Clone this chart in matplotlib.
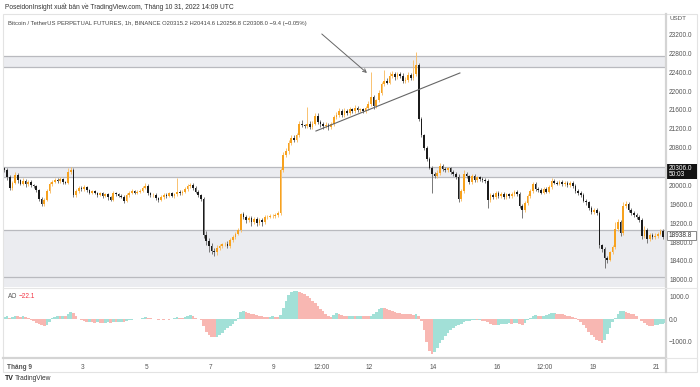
import numpy as np
import matplotlib
matplotlib.use("Agg")
import matplotlib.pyplot as plt
from matplotlib.patches import Rectangle
from matplotlib.lines import Line2D

plt.rcParams['font.family'] = ['Liberation Sans', 'DejaVu Sans']

# ---------------- data (2-hour candles from 2022-08-31 13:00 UTC) ----------------
first_open = 20380
close = [
    20320, 20180, 19950, 20060, 20230, 20110, 20040, 20100, 20020, 20070,
    20010, 19980, 19900, 19720, 19600, 19700, 19880, 20030, 20080, 20120,
    20090, 20130, 20070, 20060, 20290, 20330, 19800, 19880, 19950, 19920,
    19960, 19900, 19850, 19880, 19840, 19800, 19830, 19780, 19820, 19750,
    19700, 19840, 19810, 19780, 19760, 19680, 19790, 19850, 19880, 19850,
    19870, 19890, 19950, 19990, 19830, 19790, 19800, 19730, 19690, 19760,
    19800, 19780, 19830, 19780, 19810, 19870, 19830, 19860, 19930, 19990,
    20010, 19950, 19870, 19790, 19720, 18950, 18820, 18720, 18620, 18580,
    18680, 18720, 18750, 18770, 18720, 18850, 18910, 18980, 19060, 19390,
    19340, 19270, 19310, 19220, 19290, 19200, 19270, 19230, 19330, 19340,
    19350, 19360, 19380, 19420, 20330, 20650, 20720, 20900, 21000, 20970,
    21060, 21310, 21270, 21250, 21300, 21230, 21310, 21470, 21340, 21300,
    21250, 21290, 21240, 21300, 21440, 21490, 21570, 21500, 21580, 21540,
    21610, 21570, 21640, 21590, 21610, 21570, 21630, 21720, 21880, 21680,
    21800, 21960, 22140, 22210, 22180, 22320, 22360, 22290, 22370, 22320,
    22220, 22240, 22330, 22280, 22360, 22560, 21400, 21060, 20800, 20560,
    20380, 20240, 20190, 20260, 20410, 20350, 20330, 20360, 20290, 20250,
    20180, 19720, 19880, 20250, 20190, 20080, 20200, 20120, 20170, 20130,
    20120, 20090, 19690, 19800, 19750, 19840, 19780, 19820, 19760, 19810,
    19780, 19820, 19860, 19820, 19560, 19470, 19620, 19770, 19880, 20030,
    19930, 19900, 19850, 19920, 19870, 19970, 20100, 20060, 20040, 20080,
    20030, 20060, 20010, 20050, 19990, 19880, 19840, 19790, 19680, 19640,
    19520, 19440, 19480, 19420, 18730, 18660, 18460, 18430, 18580, 18700,
    19080, 19230, 18990, 19560, 19600, 19480, 19420, 19380, 19330, 19270,
    18920, 19060, 18860, 18950, 18900, 18930, 18980, 19030, 18910, 18940,
]
wick_up = [
    20, 60, 50, 40, 60, 40, 30, 50, 40, 40,
    40, 30, 30, 30, 30, 40, 40, 40, 40, 40,
    40, 40, 30, 30, 90, 70, 30, 40, 40, 30,
    40, 30, 30, 30, 30, 30, 40, 30, 30, 30,
    30, 40, 30, 30, 30, 30, 40, 40, 40, 30,
    40, 30, 40, 60, 40, 30, 30, 30, 30, 40,
    40, 30, 40, 30, 40, 290, 40, 40, 40, 40,
    40, 40, 30, 30, 30, 40, 80, 60, 70, 60,
    50, 50, 40, 40, 50, 40, 40, 40, 40, 30,
    40, 40, 40, 40, 40, 40, 40, 40, 40, 40,
    40, 40, 40, 40, 40, 60, 80, 60, 60, 60,
    60, 60, 80, 40, 360, 60, 60, 60, 60, 40,
    40, 60, 40, 40, 50, 60, 80, 40, 60, 40,
    60, 40, 60, 40, 40, 40, 60, 60, 520, 40,
    40, 60, 60, 240, 60, 90, 60, 40, 40, 40,
    60, 60, 80, 60, 300, 270, 40, 40, 40, 40,
    40, 40, 40, 60, 60, 40, 40, 40, 40, 40,
    40, 60, 40, 80, 40, 40, 40, 40, 40, 40,
    40, 40, 40, 40, 40, 40, 40, 40, 40, 40,
    40, 40, 40, 40, 40, 40, 40, 40, 40, 40,
    40, 40, 40, 40, 40, 40, 60, 40, 40, 40,
    40, 40, 40, 40, 40, 40, 40, 40, 40, 40,
    40, 40, 40, 40, 40, 40, 40, 40, 40, 40,
    140, 60, 40, 80, 60, 40, 40, 40, 40, 40,
    40, 80, 40, 40, 40, 60, 40, 40, 40, 40,
]
wick_down = [
    40, 60, 50, 40, 40, 50, 40, 40, 50, 30,
    40, 40, 40, 40, 40, 40, 40, 30, 40, 30,
    30, 40, 40, 30, 30, 40, 50, 40, 40, 40,
    40, 40, 30, 40, 30, 40, 30, 40, 30, 60,
    30, 40, 30, 30, 30, 60, 40, 30, 30, 30,
    30, 30, 30, 30, 40, 40, 30, 40, 40, 30,
    40, 40, 30, 30, 40, 30, 30, 40, 30, 40,
    40, 40, 40, 40, 40, 60, 80, 120, 70, 80,
    50, 40, 40, 40, 40, 40, 40, 40, 40, 40,
    50, 60, 40, 80, 40, 60, 40, 90, 40, 40,
    40, 40, 40, 40, 40, 40, 40, 60, 40, 40,
    40, 40, 40, 40, 40, 40, 40, 40, 40, 60,
    60, 40, 60, 40, 40, 40, 40, 40, 40, 40,
    40, 40, 40, 40, 40, 40, 40, 40, 40, 60,
    40, 40, 40, 40, 40, 40, 40, 60, 40, 40,
    40, 40, 40, 40, 40, 40, 40, 40, 40, 40,
    40, 400, 40, 40, 40, 40, 40, 40, 40, 40,
    40, 80, 40, 40, 40, 40, 40, 40, 40, 40,
    40, 40, 160, 40, 40, 40, 40, 40, 40, 40,
    40, 40, 40, 40, 40, 160, 40, 40, 40, 40,
    40, 40, 40, 40, 40, 40, 40, 40, 40, 40,
    40, 40, 40, 40, 40, 40, 40, 40, 40, 60,
    40, 40, 40, 40, 60, 60, 210, 80, 40, 40,
    40, 40, 60, 40, 40, 40, 40, 40, 40, 40,
    60, 40, 80, 40, 40, 40, 40, 40, 40, 40,
]
ao = [
    100, 120, 60, 80, 130, 120, 90, 110, 70, 30,
    -40, -100, -160, -220, -260, -300, -280, -150, 50, 100,
    120, 110, 150, 140, 200, 300, 250, 120, 20, -60,
    -100, -120, -110, -140, -160, -150, -170, -180, -160, -150,
    -170, -130, -150, -120, -110, -140, -100, -60, -40, -20,
    0, 20, 60, 100, 60, 30, 10, -20, -40, -20,
    -30, -10, -40, 10, 30, 80, 60, 50, 90, 150,
    180, 120, 60, 20, -40, -300, -550, -700, -780, -800,
    -780, -700, -600, -500, -400, -300, -200, -100, 50, 300,
    350, 320, 280, 240, 200, 170, 140, 120, 100, 90,
    100, 110, 100, 90, 180, 500, 800, 1050, 1180, 1220,
    1230, 1200, 1150, 1080, 1000, 900, 800, 680, 560, 440,
    330, 220, 130, 100, 180, 260, 230, 180, 150, 130,
    140, 150, 120, 130, 150, 140, 120, 110, 130, 200,
    300, 420, 500, 480, 430, 400, 350, 300, 280, 250,
    230, 220, 210, 200, 190, 220, 150, -100, -500, -1000,
    -1400, -1550, -1450, -1250, -1050, -900, -750, -620, -500, -400,
    -300, -250, -200, -150, -100, -70, -50, -40, -60, -50,
    -70, -80, -150, -220, -260, -270, -250, -240, -220, -200,
    -190, -200, -180, -160, -220, -260, -180, -60, 50, 150,
    170, 150, 130, 150, 160, 200, 250, 260, 240, 220,
    200, 170, 140, 110, 80, 40, -50, -150, -250, -400,
    -550, -680, -800, -900, -980, -1050, -900, -650, -400, -150,
    50, 200, 330, 350, 300, 260, 230, 200, 120, 20,
    -80, -180, -250, -290, -300, -280, -260, -230, -200, -180,
]
zones = [(22515, 22752), (20173, 20385), (18061, 19050)]
price_ticks = [18000, 18400, 18800, 19200, 19600, 20000, 20400, 20800,
               21200, 21600, 22000, 22400, 22800, 23200]
ao_ticks = [1000, 0, -1000]
time_tick_hours = [0, 48, 96, 144, 192, 228, 264, 312, 360, 396, 432, 480]
time_tick_labels = ["Tháng 9", "3", "5", "7", "9", "12:00", "12", "14", "16",
                    "12:00", "19", "21"]
trend_line = ([223.6, 332.0], [21153, 22382])
arrow_from = (228.0, 23208)
arrow_to = (262.0, 22382)
last_price, countdown = 20306.0, "50:03"
marker_price = 18938.8

# ---------------- derived ----------------
n = min(len(close), len(wick_up), len(wick_down), len(ao))
close = np.array(close[:n], float)
opens = np.concatenate([[first_open], close[:-1]])
hours = -11 + 2 * np.arange(n)          # hours from 2022-09-01 00:00 UTC
up = close >= opens
body_lo = np.minimum(opens, close)
body_hi = np.maximum(opens, close)
highs = body_hi + np.array(wick_up[:n])
lows = body_lo - np.array(wick_down[:n])
ao = np.array(ao[:n], float)

W, H = 700, 387
fig = plt.figure(figsize=(7, 3.87), dpi=100)
fig.patch.set_facecolor('white')


def fx(px):
    return px / W


def fy(py):
    return 1 - py / H


XL = (-12.05, 487.2)
TXT = '#555555'

# ---------------- price pane ----------------
ax = fig.add_axes([fx(3), fy(287), fx(663), 272 / H])
ax.set_xlim(*XL)
ax.set_ylim(17849, 23610)
for s in ax.spines.values():
    s.set_visible(False)
ax.set_xticks([])
ax.yaxis.tick_right()
ax.set_yticks(price_ticks)
ax.set_yticklabels([f"{v:.1f}" for v in price_ticks])
ax.tick_params(axis='y', length=0, pad=2.2, labelsize=4.7, labelcolor=TXT)

for lo, hi in zones:
    ax.axhspan(lo, hi, color='#ebecf0', zorder=0, lw=0)
    ax.axhline(lo, color='#b9babf', lw=0.9, zorder=0.5)
    ax.axhline(hi, color='#b9babf', lw=0.9, zorder=0.5)
ax.axhspan(17700, zones[2][0], color='#ebecf0', zorder=0, lw=0)

wick_col = np.where(up, '#f9bd66', '#6e6e6e')
body_col = np.where(up, '#f7a21e', '#1b1b1b')
ax.vlines(hours, lows, highs, colors=wick_col, lw=0.65, zorder=2)
heights = np.maximum(body_hi - body_lo, 10)
ax.bar(hours, heights, bottom=body_lo, width=1.25, color=body_col, lw=0, zorder=3)

ax.plot(trend_line[0], trend_line[1], color='#666666', lw=0.8, zorder=4)
ax.annotate('', xy=arrow_to, xytext=arrow_from,
            arrowprops=dict(arrowstyle='->', color='#666666', lw=0.7,
                            shrinkA=0, shrinkB=0, mutation_scale=6), zorder=4)

# ---------------- AO pane ----------------
ax2 = fig.add_axes([fx(3), fy(358), fx(663), 70 / H])
ax2.set_xlim(*XL)
ax2.set_ylim(-1703, 1354)
for s in ax2.spines.values():
    s.set_visible(False)
rising = np.concatenate([[True], np.diff(ao) >= 0])
ao_col = np.where(rising, '#a2e0d7', '#f8b7b2')
ax2.bar(hours, ao, width=2.05, color=ao_col, lw=0)
ax2.yaxis.tick_right()
ax2.set_yticks(ao_ticks)
ax2.set_yticklabels([f"{v:.1f}".replace('-', '\u2212') for v in ao_ticks])
ax2.tick_params(axis='y', length=0, pad=2.2, labelsize=4.7, labelcolor=TXT)
ax2.set_xticks(time_tick_hours)
ax2.set_xticklabels(time_tick_labels)
ax2.tick_params(axis='x', length=0, pad=4.2, labelsize=4.7, labelcolor=TXT)
ax2.get_xticklabels()[0].set_fontweight('bold')

# ---------------- frame & separators ----------------
fig.add_artist(Rectangle((fx(3), fy(372)), fx(694), (372 - 14) / H,
                         fill=False, ec='#e3e3e3', lw=0.8, transform=fig.transFigure))
fig.add_artist(Line2D([fx(666), fx(666)], [fy(14), fy(372)], color='#d4d4d4', lw=1.6))
fig.add_artist(Line2D([fx(3), fx(697)], [fy(287.5), fy(287.5)], color='#e6e6e6', lw=0.8))
fig.add_artist(Line2D([fx(3), fx(666)], [fy(358), fy(358)], color='#d4d4d4', lw=1.6))
fig.add_artist(Line2D([fx(666), fx(697)], [fy(358), fy(358)], color='#e6e6e6', lw=0.8))

# ---------------- texts ----------------
fig.text(fx(5), fy(7), "PoseidonInsight xuất bản về TradingView.com, Tháng 10 31, 2022 14:09 UTC",
         fontsize=4.8, color='#333333', va='center', ha='left')
fig.text(fx(8), fy(23),
         "Bitcoin / TetherUS PERPETUAL FUTURES, 1h, BINANCE O20315.2 H20414.6 L20256.8 "
         "C20308.0 \u22129.4 (\u22120.05%)",
         fontsize=4.25, color='#444444', va='center', ha='left')
fig.text(fx(669), fy(18), "USDT", fontsize=4.5, color=TXT, va='center', ha='left')
fig.text(fx(8), fy(296), "AO", fontsize=4.7, color=TXT, va='center', ha='left')
fig.text(fx(19), fy(296), "\u221222.1", fontsize=4.7, color='#f23645', va='center', ha='left')
fig.text(fx(5), fy(379), "TV", fontsize=5, color='#222222', va='center', ha='left',
         fontweight='bold')
fig.text(fx(15), fy(379), "TradingView", fontsize=4.8, color='#333333', va='center', ha='left')

# last price label (black)
yb = 261 - (last_price - 18400) / 21.18
fig.add_artist(Rectangle((fx(666), fy(yb + 8)), fx(31), 15 / H, fc='#131313', ec='none',
                         transform=fig.transFigure))
fig.text(fx(669), fy(yb - 3), f"{last_price:.1f}", fontsize=4.7, color='white',
         va='center', ha='left')
fig.text(fx(669), fy(yb + 3.8), countdown, fontsize=4.7, color='white', va='center', ha='left')

# marker label (outlined)
ym = 261 - (marker_price - 18400) / 21.18
fig.add_artist(Rectangle((fx(667), fy(ym + 4.5)), fx(29), 9 / H, fc='white', ec='#888888',
                         lw=0.7, transform=fig.transFigure))
fig.text(fx(669), fy(ym), f"{marker_price:.1f}", fontsize=4.7, color='#333333',
         va='center', ha='left')

fig.savefig("out.png", dpi=100, facecolor='white')
